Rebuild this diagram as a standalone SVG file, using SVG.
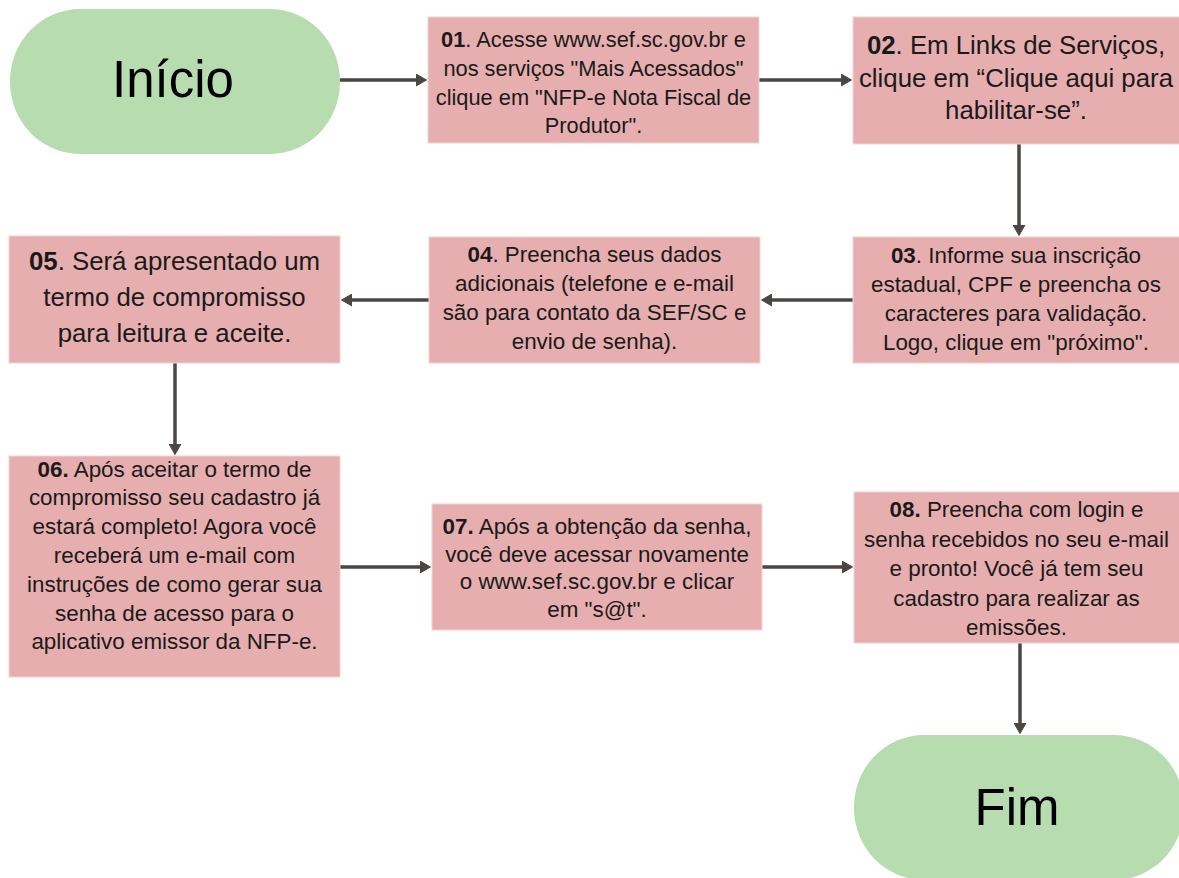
<svg xmlns="http://www.w3.org/2000/svg" width="1179" height="878" viewBox="0 0 1179 878">
<defs>
<style>
.term{fill:#b7dcb0;}
.box{fill:#e6aeae;stroke:#f1d3d3;stroke-width:1;}
.t{font-family:"Liberation Sans",Arial,sans-serif;fill:#1a1a1a;text-anchor:middle;}
.s{font-size:22.4px;}
.m{font-size:25.8px;}
.big{font-size:51px;fill:#000;}
.b{font-weight:bold;}
.con{stroke:#4b4644;stroke-width:3.5;fill:none;marker-end:url(#ah);}
</style>
<marker id="ah" markerUnits="userSpaceOnUse" viewBox="0 -6.5 11 13" markerWidth="11" markerHeight="13" refX="1" refY="0" orient="auto">
<path d="M0,-6 L10.5,0 L0,6 z" fill="#4b4644" stroke="#4b4644" stroke-width="1" stroke-linejoin="round"/>
</marker>
</defs>
<rect width="1179" height="878" fill="#ffffff"/>
<g id="connectors">
<line class="con" x1="340" y1="80" x2="417" y2="80"/>
<line class="con" x1="759" y1="80" x2="842" y2="80"/>
<line class="con" x1="1019" y1="144" x2="1019" y2="226"/>
<line class="con" x1="853" y1="300" x2="771" y2="300"/>
<line class="con" x1="429" y1="300" x2="351" y2="300"/>
<line class="con" x1="175" y1="363" x2="175" y2="445"/>
<line class="con" x1="340" y1="567" x2="421" y2="567"/>
<line class="con" x1="762" y1="567" x2="843" y2="567"/>
<line class="con" x1="1020" y1="643" x2="1020" y2="724"/>
</g>
<g id="inicio">
<rect class="term" x="10" y="9" width="330" height="145" rx="70" ry="72"/>
<text class="t big" x="173" y="97">Início</text>
</g>
<g id="n01">
<rect class="box" x="428" y="17" width="331" height="126"/>
<text class="t" style="font-size:21.8px" x="593.5" y="47.3"><tspan class="b">01</tspan>. Acesse www.sef.sc.gov.br e</text>
<text class="t" style="font-size:21.8px" x="593.5" y="76">nos serviços "Mais Acessados"</text>
<text class="t" style="font-size:21.8px" x="593.5" y="104.7">clique em "NFP-e Nota Fiscal de</text>
<text class="t" style="font-size:21.8px" x="593.5" y="133.4">Produtor".</text>
</g>
<g id="n02">
<rect class="box" x="853" y="17" width="330" height="127"/>
<text class="t m" x="1016" y="54"><tspan class="b">02</tspan>. Em Links de Serviços,</text>
<text class="t m" x="1016" y="86.5">clique em “Clique aqui para</text>
<text class="t m" x="1016" y="119">habilitar-se”.</text>
</g>
<g id="n03">
<rect class="box" x="853" y="237" width="330" height="126"/>
<text class="t s" x="1016" y="262.5"><tspan class="b">03</tspan>. Informe sua inscrição</text>
<text class="t s" x="1016" y="291.5">estadual, CPF e preencha os</text>
<text class="t s" x="1016" y="320.5">caracteres para validação.</text>
<text class="t s" x="1016" y="349.5">Logo, clique em "próximo".</text>
</g>
<g id="n04">
<rect class="box" x="429" y="237" width="331" height="126"/>
<text class="t s" x="594.5" y="262"><tspan class="b">04</tspan>. Preencha seus dados</text>
<text class="t s" x="594.5" y="291">adicionais (telefone e e-mail</text>
<text class="t s" x="594.5" y="320">são para contato da SEF/SC e</text>
<text class="t s" x="594.5" y="349">envio de senha).</text>
</g>
<g id="n05">
<rect class="box" x="9" y="236" width="331" height="127"/>
<text class="t m" x="174.5" y="270"><tspan class="b">05</tspan>. Será apresentado um</text>
<text class="t m" x="174.5" y="306">termo de compromisso</text>
<text class="t m" x="174.5" y="342">para leitura e aceite.</text>
</g>
<g id="n06">
<rect class="box" x="9" y="456" width="331" height="221"/>
<text class="t s" x="174.5" y="476.5"><tspan class="b">06.</tspan> Após aceitar o termo de</text>
<text class="t s" x="174.5" y="505.3">compromisso seu cadastro já</text>
<text class="t s" x="174.5" y="534.1">estará completo! Agora você</text>
<text class="t s" x="174.5" y="562.9">receberá um e-mail com</text>
<text class="t s" x="174.5" y="591.7">instruções de como gerar sua</text>
<text class="t s" x="174.5" y="620.5">senha de acesso para o</text>
<text class="t s" x="174.5" y="649.3">aplicativo emissor da NFP-e.</text>
</g>
<g id="n07">
<rect class="box" x="432" y="504" width="330" height="126"/>
<text class="t s" x="597" y="534"><tspan class="b">07.</tspan> Após a obtenção da senha,</text>
<text class="t s" x="597" y="561.7">você deve acessar novamente</text>
<text class="t s" x="597" y="589.3">o www.sef.sc.gov.br e clicar</text>
<text class="t s" x="597" y="617">em "s@t".</text>
</g>
<g id="n08">
<rect class="box" x="854" y="492" width="329" height="151"/>
<text class="t s" x="1016.5" y="517"><tspan class="b">08.</tspan> Preencha com login e</text>
<text class="t s" x="1016.5" y="546.5">senha recebidos no seu e-mail</text>
<text class="t s" x="1016.5" y="576">e pronto! Você já tem seu</text>
<text class="t s" x="1016.5" y="605.5">cadastro para realizar as</text>
<text class="t s" x="1016.5" y="635">emissões.</text>
</g>
<g id="fim">
<rect class="term" x="854" y="735" width="330" height="145" rx="70" ry="72"/>
<text class="t big" x="1017" y="825">Fim</text>
</g>
</svg>
